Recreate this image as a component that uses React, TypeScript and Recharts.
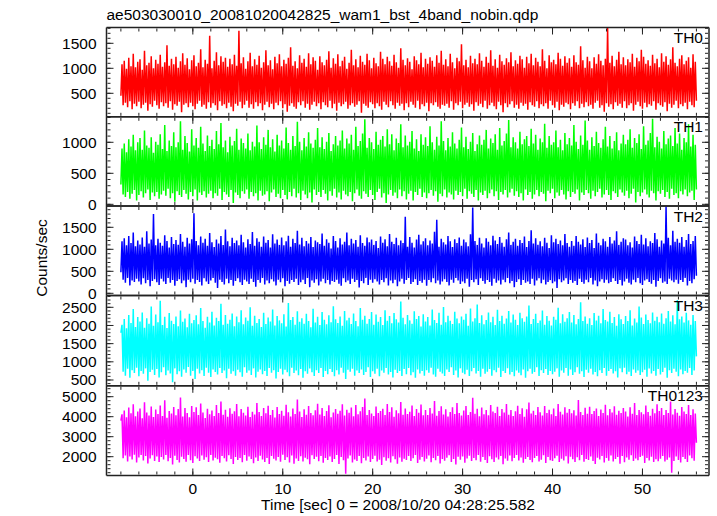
import React from 'react';
import { LineChart, Line, XAxis, YAxis } from 'recharts';

// Light curve bins (regular binning of the QDP file, 1/8 s)
const BIN_START = -8;
const BIN_WIDTH = 0.125;

const TH0 = [
  450, 1080, 260, 1150, 310, 990, 220, 1210, 340, 1040, 180, 1290, 290, 1020, 240, 1130,
  330, 1180, 200, 970, 270, 1350, 310, 1060, 150, 1110, 280, 1240, 230, 1000, 350, 1170,
  260, 1090, 190, 1270, 320, 1030, 240, 1120, 300, 1460, 210, 1050, 340, 1190, 170, 1080,
  280, 1230, 250, 1010, 330, 1140, 120, 1300, 270, 1070, 300, 1200, 220, 980, 310, 1160,
  240, 1260, 180, 1040, 290, 1110, 350, 1380, 230, 1020, 270, 1170, 190, 1090, 320, 1650,
  210, 1000, 300, 1150, 260, 1320, 160, 1060, 340, 1240, 250, 1130, 280, 1210, 200, 1030,
  310, 1190, 230, 1080, 140, 1270, 290, 1050, 250, 1750, 330, 1100, 200, 1220, 270, 990,
  350, 1140, 210, 1310, 280, 1040, 190, 1180, 320, 1070, 240, 1250, 300, 1010, 160, 1120,
  270, 1360, 330, 1060, 220, 1160, 290, 980, 180, 1230, 310, 1100, 260, 1280, 340, 1040,
  200, 1170, 280, 1090, 130, 1210, 250, 1420, 300, 1050, 230, 1140, 190, 1000, 320, 1260,
  260, 1110, 340, 1190, 210, 1030, 290, 1300, 170, 1080, 270, 1220, 330, 1150, 240, 970,
  300, 1240, 180, 1120, 320, 1060, 260, 1170, 220, 1340, 350, 1010, 200, 1200, 290, 1090,
  150, 1280, 310, 1040, 240, 1150, 280, 1230, 330, 990, 190, 1110, 260, 1370, 300, 1060,
  230, 1180, 270, 1020, 340, 1250, 110, 1130, 290, 1070, 250, 1290, 210, 1160, 320, 1000,
  280, 1210, 200, 1100, 300, 1040, 240, 1330, 170, 1190, 330, 1080, 270, 1230, 220, 1140,
  340, 1050, 260, 1270, 190, 1120, 310, 1010, 250, 1400, 290, 1170, 160, 1060, 300, 1200,
  220, 1130, 330, 980, 270, 1240, 210, 1160, 350, 1080, 180, 1310, 280, 1020, 240, 1190,
  310, 1090, 140, 1220, 300, 1150, 260, 1030, 320, 1260, 230, 1110, 190, 1350, 270, 1070,
  250, 1180, 290, 1040, 210, 1290, 340, 1120, 170, 1000, 300, 1210, 260, 1140, 330, 1480,
  200, 1060, 270, 1170, 310, 1020, 230, 1250, 280, 1100, 150, 1190, 320, 1080, 250, 1300,
  290, 1150, 220, 1030, 350, 1230, 190, 1110, 260, 1360, 310, 1050, 240, 1180, 180, 1010,
  330, 1270, 260, 1140, 120, 1070, 300, 1200, 220, 1120, 280, 1320, 340, 1040, 210, 1160,
  270, 1090, 190, 1250, 310, 1180, 250, 1010, 290, 1230, 170, 1100, 320, 1290, 260, 1060,
  230, 1210, 340, 1130, 200, 1040, 280, 1380, 240, 1150, 300, 1000, 190, 1260, 350, 1120,
  260, 1170, 210, 1080, 330, 1310, 160, 1190, 270, 1050, 230, 1240, 310, 1110, 280, 1200,
  180, 1030, 300, 1260, 250, 1120, 340, 1070, 200, 1440, 290, 1160, 220, 1010, 320, 1230,
  240, 1140, 270, 1000, 190, 1220, 310, 1090, 350, 1280, 210, 1150, 260, 1060, 130, 1190,
  300, 1810, 230, 1110, 280, 1250, 180, 1040, 320, 1170, 250, 1330, 290, 1080, 210, 1220,
  340, 1060, 200, 1180, 260, 1120, 300, 1290, 150, 1030, 270, 1210, 330, 1140, 240, 1370,
  190, 1230, 310, 1090, 220, 1160, 280, 1050, 250, 1270, 340, 1100, 170, 1190, 300, 1020,
  260, 1300, 230, 1130, 320, 1240, 140, 1070, 290, 1180, 210, 1420, 270, 1110, 350, 1040,
  200, 1190, 280, 1260, 240, 1080, 310, 1150, 180, 1220, 330, 1010, 260, 1280, 220, 1130,
  350,
];

const TH1 = [
  320, 900, 160, 980, 120, 840, 200, 1050, 90, 930, 170, 1120, 230, 870, 60, 1000,
  150, 1070, 210, 880, 110, 1190, 180, 950, 240, 910, 70, 1080, 190, 830, 130, 1010,
  200, 960, 90, 1130, 160, 890, 220, 1280, 140, 860, 250, 1030, 100, 940, 180, 1160,
  40, 920, 210, 1000, 150, 1340, 120, 880, 230, 1100, 170, 990, 80, 850, 200, 1210,
  130, 950, 240, 1070, 60, 910, 190, 1250, 150, 980, 210, 860, 110, 1110, 170, 940,
  220, 1040, 100, 890, 180, 1180, 140, 970, 250, 1310, 70, 920, 200, 1030, 160, 840,
  120, 1090, 230, 950, 20, 1020, 190, 1220, 150, 880, 100, 1060, 210, 990, 170, 900,
  240, 1140, 90, 870, 200, 1010, 130, 930, 180, 1270, 60, 1000, 220, 890, 140, 1080,
  160, 960, 210, 1200, 50, 920, 190, 1050, 240, 850, 120, 1120, 170, 950, 100, 1030,
  230, 900, 150, 1240, 80, 990, 200, 880, 130, 1100, 250, 940, 110, 1330, 180, 1010,
  70, 870, 220, 1070, 160, 930, 100, 1160, 190, 980, 30, 910, 240, 1040, 150, 1230,
  200, 920, 120, 1080, 230, 890, 170, 1010, 60, 1150, 210, 860, 140, 970, 250, 1100,
  110, 950, 190, 1030, 80, 1190, 220, 900, 160, 1060, 130, 980, 200, 1120, 50, 880,
  180, 1250, 240, 940, 140, 1020, 90, 1140, 210, 1370, 170, 910, 120, 1070, 230, 1000,
  150, 890, 70, 1170, 200, 960, 250, 1040, 110, 1100, 180, 930, 20, 1210, 160, 970,
  230, 1130, 140, 870, 190, 1060, 100, 990, 240, 1290, 130, 920, 210, 1110, 80, 950,
  170, 1010, 220, 1180, 60, 900, 200, 1050, 150, 860, 250, 1130, 120, 960, 190, 1080,
  100, 940, 180, 1260, 230, 1000, 140, 880, 210, 1090, 40, 950, 170, 1340, 130, 1020,
  240, 870, 110, 1070, 190, 930, 160, 1160, 80, 980, 220, 900, 150, 1040, 200, 1240,
  130, 920, 250, 1090, 90, 890, 210, 1010, 170, 1150, 120, 860, 230, 970, 60, 1110,
  190, 960, 150, 1040, 220, 1200, 100, 900, 180, 1060, 240, 990, 130, 1130, 210, 880,
  70, 1230, 200, 950, 160, 1020, 230, 1140, 110, 1360, 190, 920, 250, 1080, 140, 1000,
  210, 900, 120, 1170, 180, 970, 60, 1050, 240, 1100, 150, 940, 200, 1220, 90, 980,
  160, 1120, 230, 880, 130, 1060, 200, 1000, 170, 1300, 50, 910, 220, 1100, 180, 960,
  250, 1000, 100, 1190, 190, 920, 140, 1040, 230, 870, 160, 1150, 80, 970, 210, 1070,
  120, 950, 200, 1280, 170, 1010, 240, 890, 60, 1110, 190, 960, 150, 1350, 230, 1030,
  180, 880, 90, 1080, 220, 940, 130, 1170, 200, 990, 250, 910, 110, 1050, 160, 1250,
  230, 930, 150, 1100, 70, 900, 210, 1020, 180, 1160, 120, 870, 240, 980, 190, 1120,
  140, 970, 220, 1040, 100, 1210, 170, 910, 250, 1070, 30, 990, 200, 1130, 130, 890,
  190, 1260, 240, 960, 160, 1030, 110, 1150, 220, 1380, 180, 920, 60, 1090, 210, 1010,
  170, 900, 230, 1180, 120, 970, 200, 1060, 90, 1110, 250, 940, 150, 1230, 180, 980,
  100, 1140, 210, 880, 160, 1070, 240, 1000, 130, 1290, 190, 930, 220, 1120, 70, 960,
  240,
];

const TH2 = [
  480, 1180, 310, 1250, 240, 1090, 350, 1300, 180, 1140, 290, 1380, 260, 1070, 330, 1200,
  270, 1110, 200, 1270, 340, 1060, 230, 1410, 300, 1130, 160, 1220, 280, 1800, 320, 1090,
  250, 1240, 190, 1150, 330, 1080, 270, 1320, 210, 1190, 350, 1040, 240, 1280, 300, 1120,
  170, 1210, 280, 1100, 320, 1350, 230, 1170, 290, 1060, 140, 1260, 310, 1130, 250, 1230,
  330, 1820, 220, 1190, 300, 1090, 260, 1290, 180, 1150, 340, 1240, 270, 1080, 210, 1370,
  290, 1160, 350, 1050, 240, 1220, 120, 1130, 310, 1300, 260, 1100, 200, 1450, 330, 1180,
  230, 1070, 300, 1260, 170, 1140, 280, 1200, 340, 1090, 250, 1330, 190, 1160, 310, 1040,
  270, 1230, 210, 1120, 330, 1390, 260, 1080, 150, 1250, 300, 1170, 240, 1060, 350, 1290,
  200, 1150, 290, 1210, 230, 1040, 320, 1340, 270, 1130, 180, 1220, 310, 1100, 250, 1270,
  340, 1090, 160, 1180, 280, 1310, 220, 1060, 300, 1240, 260, 1140, 330, 1420, 190, 1110,
  250, 1260, 310, 1070, 210, 1190, 350, 1130, 140, 1280, 290, 1050, 240, 1200, 320, 1160,
  180, 1120, 270, 1360, 330, 1080, 230, 1230, 300, 1150, 200, 1020, 280, 1300, 260, 1190,
  310, 1040, 220, 1250, 170, 1110, 340, 1170, 250, 1380, 290, 1090, 210, 1240, 330, 1130,
  260, 1210, 300, 1060, 130, 1320, 280, 1140, 230, 1080, 350, 1270, 190, 1160, 310, 1220,
  240, 1100, 320, 1190, 270, 1030, 200, 1290, 300, 1150, 250, 1230, 340, 1070, 180, 1350,
  290, 1170, 230, 1120, 310, 1260, 160, 1090, 270, 1200, 330, 1140, 220, 1740, 300, 1060,
  350, 1280, 210, 1150, 260, 1040, 320, 1220, 190, 1330, 280, 1110, 240, 1180, 310, 1250,
  170, 1090, 300, 1200, 250, 1130, 340, 1400, 230, 1670, 290, 1060, 200, 1240, 270, 1160,
  320, 1110, 260, 1300, 180, 1180, 310, 1050, 240, 1230, 350, 1140, 290, 1270, 210, 1080,
  270, 1220, 230, 1160, 330, 1070, 150, 1340, 300, 1950, 250, 1190, 320, 1100, 190, 1260,
  340, 1130, 280, 1040, 220, 1250, 300, 1170, 260, 1090, 170, 1310, 330, 1200, 240, 1120,
  290, 1280, 200, 1150, 310, 1060, 250, 1230, 350, 1380, 230, 1100, 280, 1170, 140, 1240,
  260, 1080, 320, 1210, 190, 1140, 300, 1290, 240, 1050, 270, 1190, 210, 1430, 330, 1130,
  180, 1250, 290, 1100, 340, 1180, 230, 1070, 310, 1260, 200, 1150, 260, 1030, 300, 1320,
  230, 1160, 270, 1240, 120, 1120, 320, 1200, 250, 1090, 290, 1350, 340, 1140, 210, 1060,
  300, 1190, 240, 1080, 280, 1300, 190, 1170, 330, 1110, 260, 1230, 220, 1050, 310, 1270,
  250, 1140, 350, 1210, 200, 1030, 290, 1360, 160, 1150, 270, 1090, 320, 1240, 240, 1180,
  310, 1060, 230, 1280, 260, 1130, 340, 1200, 280, 1410, 210, 1100, 300, 1170, 180, 1250,
  270, 1220, 330, 1090, 240, 1160, 200, 1040, 310, 1290, 250, 1190, 350, 1120, 230, 1330,
  190, 1110, 290, 1250, 320, 1070, 260, 1180, 220, 1140, 300, 1370, 150, 1230, 280, 1060,
  340, 1200, 240, 1130, 270, 1970, 210, 1260, 330, 1090, 290, 1420, 250, 1170, 310, 1240,
  220, 1150, 300, 1280, 260, 1060, 350, 1210, 180, 1350, 280, 1120, 230, 1190, 320, 1300,
  400,
];

const TH3 = [
  1800, 2020, 730, 2180, 620, 1920, 810, 2290, 560, 2070, 770, 2450, 690, 1960, 840, 2230,
  600, 2110, 750, 2360, 670, 1940, 820, 2200, 480, 2050, 720, 2520, 780, 1990, 640, 2300,
  800, 2090, 570, 2680, 710, 2010, 850, 2240, 630, 1930, 760, 2340, 680, 2130, 440, 2040,
  820, 2250, 660, 1980, 740, 2410, 590, 2100, 790, 2190, 700, 1950, 860, 2320, 620, 2060,
  750, 2150, 530, 2280, 810, 2030, 680, 2480, 770, 2120, 610, 1940, 840, 2240, 700, 2080,
  580, 2380, 790, 2000, 720, 2210, 650, 2120, 830, 2600, 690, 2020, 760, 2290, 550, 2050,
  810, 2160, 670, 2330, 740, 1980, 620, 2250, 780, 2090, 710, 2420, 590, 2030, 850, 2220,
  700, 2130, 760, 2500, 640, 1990, 820, 2270, 570, 2070, 730, 2180, 790, 1960, 660, 2350,
  750, 2040, 610, 2220, 830, 2110, 700, 2440, 770, 2000, 540, 2260, 720, 2140, 810, 2060,
  650, 2310, 780, 1970, 710, 2620, 600, 2150, 840, 2230, 690, 2020, 760, 2390, 630, 2100,
  800, 2200, 560, 2050, 740, 2320, 670, 2120, 820, 1950, 710, 2460, 610, 2080, 770, 2240,
  690, 2010, 830, 2370, 580, 2160, 750, 2030, 660, 2280, 800, 2090, 720, 2530, 600, 2170,
  770, 2070, 650, 2250, 840, 1990, 700, 2400, 530, 2140, 780, 2210, 730, 2040, 810, 2330,
  620, 2120, 760, 1980, 690, 2480, 790, 2160, 640, 2270, 720, 2050, 850, 2180, 580, 2370,
  740, 2020, 670, 2300, 810, 2100, 600, 2230, 760, 2010, 700, 2420, 830, 2130, 650, 2260,
  720, 2060, 570, 2340, 780, 2170, 690, 2080, 750, 2660, 610, 2210, 800, 2030, 660, 2290,
  830, 2140, 630, 2050, 710, 2390, 560, 2180, 790, 2260, 680, 1970, 750, 2310, 620, 2110,
  770, 2230, 700, 2000, 840, 2440, 650, 2150, 590, 2070, 810, 2350, 730, 2020, 680, 2510,
  610, 2090, 790, 2270, 720, 2130, 850, 2040, 640, 2380, 760, 2190, 570, 2060, 820, 2250,
  700, 2160, 660, 2320, 780, 1990, 610, 2470, 740, 2110, 830, 2200, 680, 2580, 750, 2070,
  590, 2280, 810, 2030, 670, 2150, 730, 2360, 800, 2090, 620, 2240, 770, 2010, 710, 2430,
  840, 2120, 580, 2270, 750, 2050, 690, 2190, 820, 2400, 650, 2080, 720, 2300, 600, 2160,
  760, 2010, 700, 2350, 630, 2200, 790, 2100, 560, 2250, 740, 2550, 810, 2040, 670, 2180,
  720, 2320, 850, 2070, 610, 2140, 770, 2410, 690, 2020, 800, 2260, 640, 2130, 750, 2000,
  660, 2240, 730, 2160, 820, 2490, 590, 2060, 760, 2310, 700, 2100, 830, 2200, 620, 2370,
  790, 2080, 640, 2290, 710, 2030, 850, 2180, 670, 2640, 740, 2120, 580, 2250, 780, 2050,
  700, 2200, 810, 2010, 650, 2340, 720, 2140, 600, 2270, 770, 2060, 690, 2450, 830, 2150,
  620, 2110, 750, 2380, 800, 2070, 680, 2230, 740, 1990, 570, 2310, 820, 2170, 710, 2040,
  840, 2260, 660, 2120, 730, 2420, 610, 2000, 790, 2190, 700, 2080, 760, 2520, 640, 2220,
  710, 2040, 780, 2300, 590, 2150, 820, 2060, 680, 2360, 750, 2130, 620, 2240, 800, 2090,
  650, 2330, 720, 2050, 840, 2200, 560, 2400, 770, 2110, 690, 2280, 810, 2030, 730, 2700,
  600, 2170, 790, 2250, 660, 2080, 750, 2350, 700, 2140, 830, 2020, 640, 2290, 760, 2120,
  1150,
];

const TH0123 = [
  3800, 4120, 1920, 4310, 2060, 3970, 1760, 4460, 2010, 4170, 1860, 4620, 2100, 4020, 1710, 4260,
  1960, 4410, 2090, 3920, 1810, 4720, 2030, 4210, 1660, 4060, 1910, 4510, 2070, 3990, 1790, 4360,
  2010, 4130, 1730, 4560, 1990, 4030, 1860, 4820, 2080, 3950, 1770, 4290, 1940, 4160, 1610, 4490,
  2050, 4070, 1830, 4390, 1710, 4960, 2000, 4010, 1890, 4430, 1750, 4190, 2080, 3970, 1820, 4530,
  1690, 4240, 2020, 4470, 1910, 4090, 1780, 4660, 2060, 4210, 1850, 3930, 1970, 4400, 1730, 4120,
  2090, 4310, 1810, 4040, 1950, 4590, 1870, 4180, 1700, 4760, 2030, 4100, 1920, 4350, 1760, 4000,
  2070, 4420, 1880, 4150, 1640, 4270, 1990, 4630, 1830, 4020, 1940, 4380, 1720, 4200, 2080, 4060,
  1800, 4500, 2010, 3980, 1890, 4250, 1670, 4110, 1960, 4690, 1780, 4230, 2050, 4030, 1860, 4440,
  1740, 4170, 1930, 4550, 1630, 4080, 2040, 4340, 1900, 3960, 1810, 4480, 1980, 4140, 1750, 4300,
  2100, 4050, 1840, 4600, 1970, 4220, 1710, 4010, 2060, 4410, 1650, 4130, 1910, 4860, 1790, 4260,
  2020, 3990, 1760, 4370, 1950, 4100, 1870, 4530, 1620, 4190, 2070, 4070, 1890, 4320, 2000, 4650,
  1770, 4110, 2040, 4430, 1700, 4040, 1930, 4280, 1840, 4570, 2010, 3970, 1740, 4210, 1880, 4390,
  2080, 4150, 1640, 4300, 1990, 4620, 1820, 4060, 1150, 4350, 1910, 4200, 2060, 4460, 1710, 4020,
  1860, 4580, 1790, 4120, 2030, 4270, 1670, 4490, 1940, 4910, 1810, 4090, 2010, 4330, 1730, 4160,
  1890, 4040, 2050, 4510, 1760, 4180, 1850, 4290, 1590, 4400, 1970, 4080, 1800, 4640, 1920, 4230,
  1710, 4470, 2020, 4000, 1870, 4320, 1650, 4170, 1960, 4730, 1750, 4100, 1900, 4410, 1830, 4140,
  2040, 4250, 1780, 4560, 1920, 4030, 2090, 4380, 1690, 4200, 1850, 4610, 1980, 4070, 1760, 4340,
  1900, 4090, 2060, 4440, 1720, 4160, 1940, 4780, 1820, 4050, 2030, 4290, 1660, 4520, 1880, 4110,
  1800, 4370, 1950, 4010, 2070, 4240, 1740, 4470, 1890, 4130, 1610, 4680, 2000, 4190, 1850, 4060,
  2010, 4310, 1700, 4540, 1910, 4080, 2050, 4230, 1780, 4950, 1930, 4150, 1820, 4400, 2080, 4020,
  1750, 4460, 1990, 4120, 1840, 4330, 1680, 4070, 2020, 4590, 1870, 4260, 1730, 4180, 1960, 4500,
  1860, 4030, 2040, 4390, 1620, 4210, 1910, 4630, 1800, 4100, 2060, 4340, 1770, 4040, 1940, 4270,
  2090, 4550, 1810, 4140, 1960, 4420, 1700, 4000, 1880, 4370, 1990, 4710, 1840, 4160, 1720, 4300,
  1930, 4080, 2030, 4480, 1760, 4220, 1850, 4060, 2070, 4530, 1690, 4190, 1980, 4350, 1820, 4120,
  1780, 4410, 1920, 4030, 2050, 4640, 1740, 4250, 1900, 4110, 1810, 4470, 2020, 4200, 1660, 4380,
  2000, 4170, 1870, 4320, 1730, 4060, 1970, 4840, 1820, 4230, 2080, 4090, 1750, 4450, 1890, 4150,
  1830, 4500, 2010, 4130, 1790, 4280, 1630, 4410, 1950, 4040, 1860, 4360, 2040, 4190, 1710, 4600,
  1940, 4070, 1800, 4390, 2060, 4210, 1760, 4520, 1880, 4100, 1990, 4300, 1650, 4180, 2030, 4440,
  1720, 4260, 1960, 4010, 1850, 4470, 2070, 4150, 1780, 4690, 1910, 4080, 1820, 4340, 1980, 4220,
  2050, 4120, 1690, 4560, 1930, 4240, 1810, 4050, 2000, 4400, 1740, 4170, 1870, 4620, 1770, 4290,
  1900, 4430, 2040, 4090, 1760, 4330, 1850, 4180, 1960, 4760, 1200, 4110, 1790, 4390, 2010, 4200,
  1840, 4050, 1710, 4480, 1990, 4260, 1880, 4140, 1730, 4590, 2060, 4080, 1920, 4370, 1800, 4160,
  2700,
];

const X_DOMAIN: [number, number] = [-9.6, 57.4];
const X_MAJOR = [0, 10, 20, 30, 40, 50];
const X_MINOR = [-8, -6, -4, -2, 0, 2, 4, 6, 8, 10, 12, 14, 16, 18, 20, 22, 24, 26, 28, 30, 32, 34, 36, 38, 40, 42, 44, 46, 48, 50, 52, 54, 56];

const TH0_MAJOR = [500, 1000, 1500];
const TH0_MINOR = [100, 200, 300, 400, 500, 600, 700, 800, 900, 1000, 1100, 1200, 1300, 1400, 1500, 1600, 1700, 1800];
const TH1_MAJOR = [0, 500, 1000];
const TH1_MINOR = [0, 100, 200, 300, 400, 500, 600, 700, 800, 900, 1000, 1100, 1200, 1300, 1400];
const TH2_MAJOR = [0, 500, 1000, 1500];
const TH2_MINOR = [0, 100, 200, 300, 400, 500, 600, 700, 800, 900, 1000, 1100, 1200, 1300, 1400, 1500, 1600, 1700, 1800, 1900];
const TH3_MAJOR = [500, 1000, 1500, 2000, 2500];
const TH3_MINOR = [400, 500, 600, 700, 800, 900, 1000, 1100, 1200, 1300, 1400, 1500, 1600, 1700, 1800, 1900, 2000, 2100, 2200, 2300, 2400, 2500, 2600, 2700, 2800];
const TH0123_MAJOR = [2000, 3000, 4000, 5000];
const TH0123_MINOR = [1200, 1400, 1600, 1800, 2000, 2200, 2400, 2600, 2800, 3000, 3200, 3400, 3600, 3800, 4000, 4200, 4400, 4600, 4800, 5000, 5200, 5400];

const PANEL_NAMES = ['TH0', 'TH1', 'TH2', 'TH3', 'TH0123'];
const PANEL_COLORS = ['#ff0000', '#00ff00', '#0000ff', '#00ffff', '#ff00ff'];
const PANEL_VALUES = [TH0, TH1, TH2, TH3, TH0123];
const PANEL_DOMAINS: [number, number][] = [[30, 1816], [-27, 1411], [-50, 1984], [340, 2825], [1060, 5545]];
const PANEL_MAJOR = [TH0_MAJOR, TH1_MAJOR, TH2_MAJOR, TH3_MAJOR, TH0123_MAJOR];
const PANEL_MINOR = [TH0_MINOR, TH1_MINOR, TH2_MINOR, TH3_MINOR, TH0123_MINOR];

const TITLE = 'ae503030010_20081020042825_wam1_bst_4band_nobin.qdp';
const Y_LABEL = 'Counts/sec';
const X_LABEL = 'Time [sec] 0 = 2008/10/20 04:28:25.582';

const W = 717;
const H = 516;
const PLOT_LEFT = 106.5;
const PLOT_RIGHT = 709;
const EDGES = [27.5, 116.8, 206, 295.5, 385.8, 475.5];
const FONT = '"Liberation Sans", Arial, Helvetica, sans-serif';
const FS = 15.5;
const AX = '#222';

const frameLine = { stroke: AX, strokeWidth: 1.5 };
const tickLn = { stroke: AX, strokeWidth: 1 };
const tickText = { fill: '#000', fontSize: FS, fontFamily: FONT };
const NoLabel = () => <g />;

function Panel({ k }: { k: number }) {
  const values = PANEL_VALUES[k];
  const data = values.map((v, i) => ({ t: BIN_START + i * BIN_WIDTH, v }));
  const last = k === PANEL_VALUES.length - 1;
  const labelH = last ? 20 : 0;
  const top = EDGES[k];
  const bottom = EDGES[k + 1];
  const yDom = PANEL_DOMAINS[k];
  return (
    <div style={{ position: 'absolute', left: 0, top: 0 }}>
      <LineChart
        width={W}
        height={H}
        data={data}
        margin={{ top, bottom: H - bottom - labelH, left: PLOT_LEFT - 60, right: W - PLOT_RIGHT }}
      >
        <Line
          xAxisId="xb"
          yAxisId="yl"
          dataKey="v"
          type="linear"
          stroke={PANEL_COLORS[k]}
          strokeWidth={1.5}
          dot={false}
          activeDot={false}
          isAnimationActive={false}
        />
        <XAxis xAxisId="xb" type="number" dataKey="t" domain={X_DOMAIN} ticks={X_MAJOR} orientation="bottom" mirror height={1}
          tick={NoLabel} tickSize={7} tickLine={tickLn} axisLine={frameLine} stroke={AX} allowDataOverflow interval={0} />
        <XAxis xAxisId="xbm" type="number" dataKey="t" domain={X_DOMAIN} ticks={X_MINOR} orientation="bottom" mirror height={1}
          tick={NoLabel} tickSize={3} tickLine={tickLn} axisLine={false} stroke={AX} allowDataOverflow interval={0} />
        <XAxis xAxisId="xt" type="number" dataKey="t" domain={X_DOMAIN} ticks={X_MAJOR} orientation="top" mirror height={1}
          tick={NoLabel} tickSize={7} tickLine={tickLn} axisLine={frameLine} stroke={AX} allowDataOverflow interval={0} />
        <XAxis xAxisId="xtm" type="number" dataKey="t" domain={X_DOMAIN} ticks={X_MINOR} orientation="top" mirror height={1}
          tick={NoLabel} tickSize={3} tickLine={tickLn} axisLine={false} stroke={AX} allowDataOverflow interval={0} />
        {last && (
          <XAxis xAxisId="xlab" type="number" dataKey="t" domain={X_DOMAIN} ticks={X_MAJOR} orientation="bottom" height={labelH}
            tick={tickText} tickSize={0} tickMargin={7} tickLine={false} axisLine={false} allowDataOverflow interval={0} />
        )}
        <YAxis yAxisId="yl" type="number" domain={yDom} ticks={PANEL_MAJOR[k]} orientation="left" width={60}
          tick={tickText} tickSize={0} tickMargin={10} tickLine={false} axisLine={false} allowDataOverflow interval={0} />
        <YAxis yAxisId="ylM" type="number" domain={yDom} ticks={PANEL_MAJOR[k]} orientation="left" mirror width={1}
          tick={NoLabel} tickSize={7} tickLine={tickLn} axisLine={frameLine} stroke={AX} allowDataOverflow interval={0} />
        <YAxis yAxisId="ylm" type="number" domain={yDom} ticks={PANEL_MINOR[k]} orientation="left" mirror width={1}
          tick={NoLabel} tickSize={3} tickLine={tickLn} axisLine={false} stroke={AX} allowDataOverflow interval={0} />
        <YAxis yAxisId="yrM" type="number" domain={yDom} ticks={PANEL_MAJOR[k]} orientation="right" mirror width={1}
          tick={NoLabel} tickSize={7} tickLine={tickLn} axisLine={frameLine} stroke={AX} allowDataOverflow interval={0} />
        <YAxis yAxisId="yrm" type="number" domain={yDom} ticks={PANEL_MINOR[k]} orientation="right" mirror width={1}
          tick={NoLabel} tickSize={3} tickLine={tickLn} axisLine={false} stroke={AX} allowDataOverflow interval={0} />
      </LineChart>
    </div>
  );
}

export default function App() {
  return (
    <div style={{ position: 'absolute', left: 0, top: 0, width: W, height: H, background: '#fff', overflow: 'hidden' }}>
      {PANEL_NAMES.map((_, k) => (
        <Panel key={k} k={k} />
      ))}
      <svg width={W} height={H} style={{ position: 'absolute', left: 0, top: 0, pointerEvents: 'none' }}>
        <text x={PLOT_LEFT} y={19.5} fontSize={FS} fontFamily={FONT} fill="#000">{TITLE}</text>
        {PANEL_NAMES.map((n, k) => (
          <text key={n} x={703} y={EDGES[k] + 15.5} fontSize={FS} fontFamily={FONT} fill="#000" textAnchor="end">{n}</text>
        ))}
        <text transform="translate(47,258) rotate(-90)" fontSize={FS} fontFamily={FONT} fill="#000" textAnchor="middle">{Y_LABEL}</text>
        <text x={398} y={509.5} fontSize={FS} fontFamily={FONT} fill="#000" textAnchor="middle">{X_LABEL}</text>
      </svg>
    </div>
  );
}
